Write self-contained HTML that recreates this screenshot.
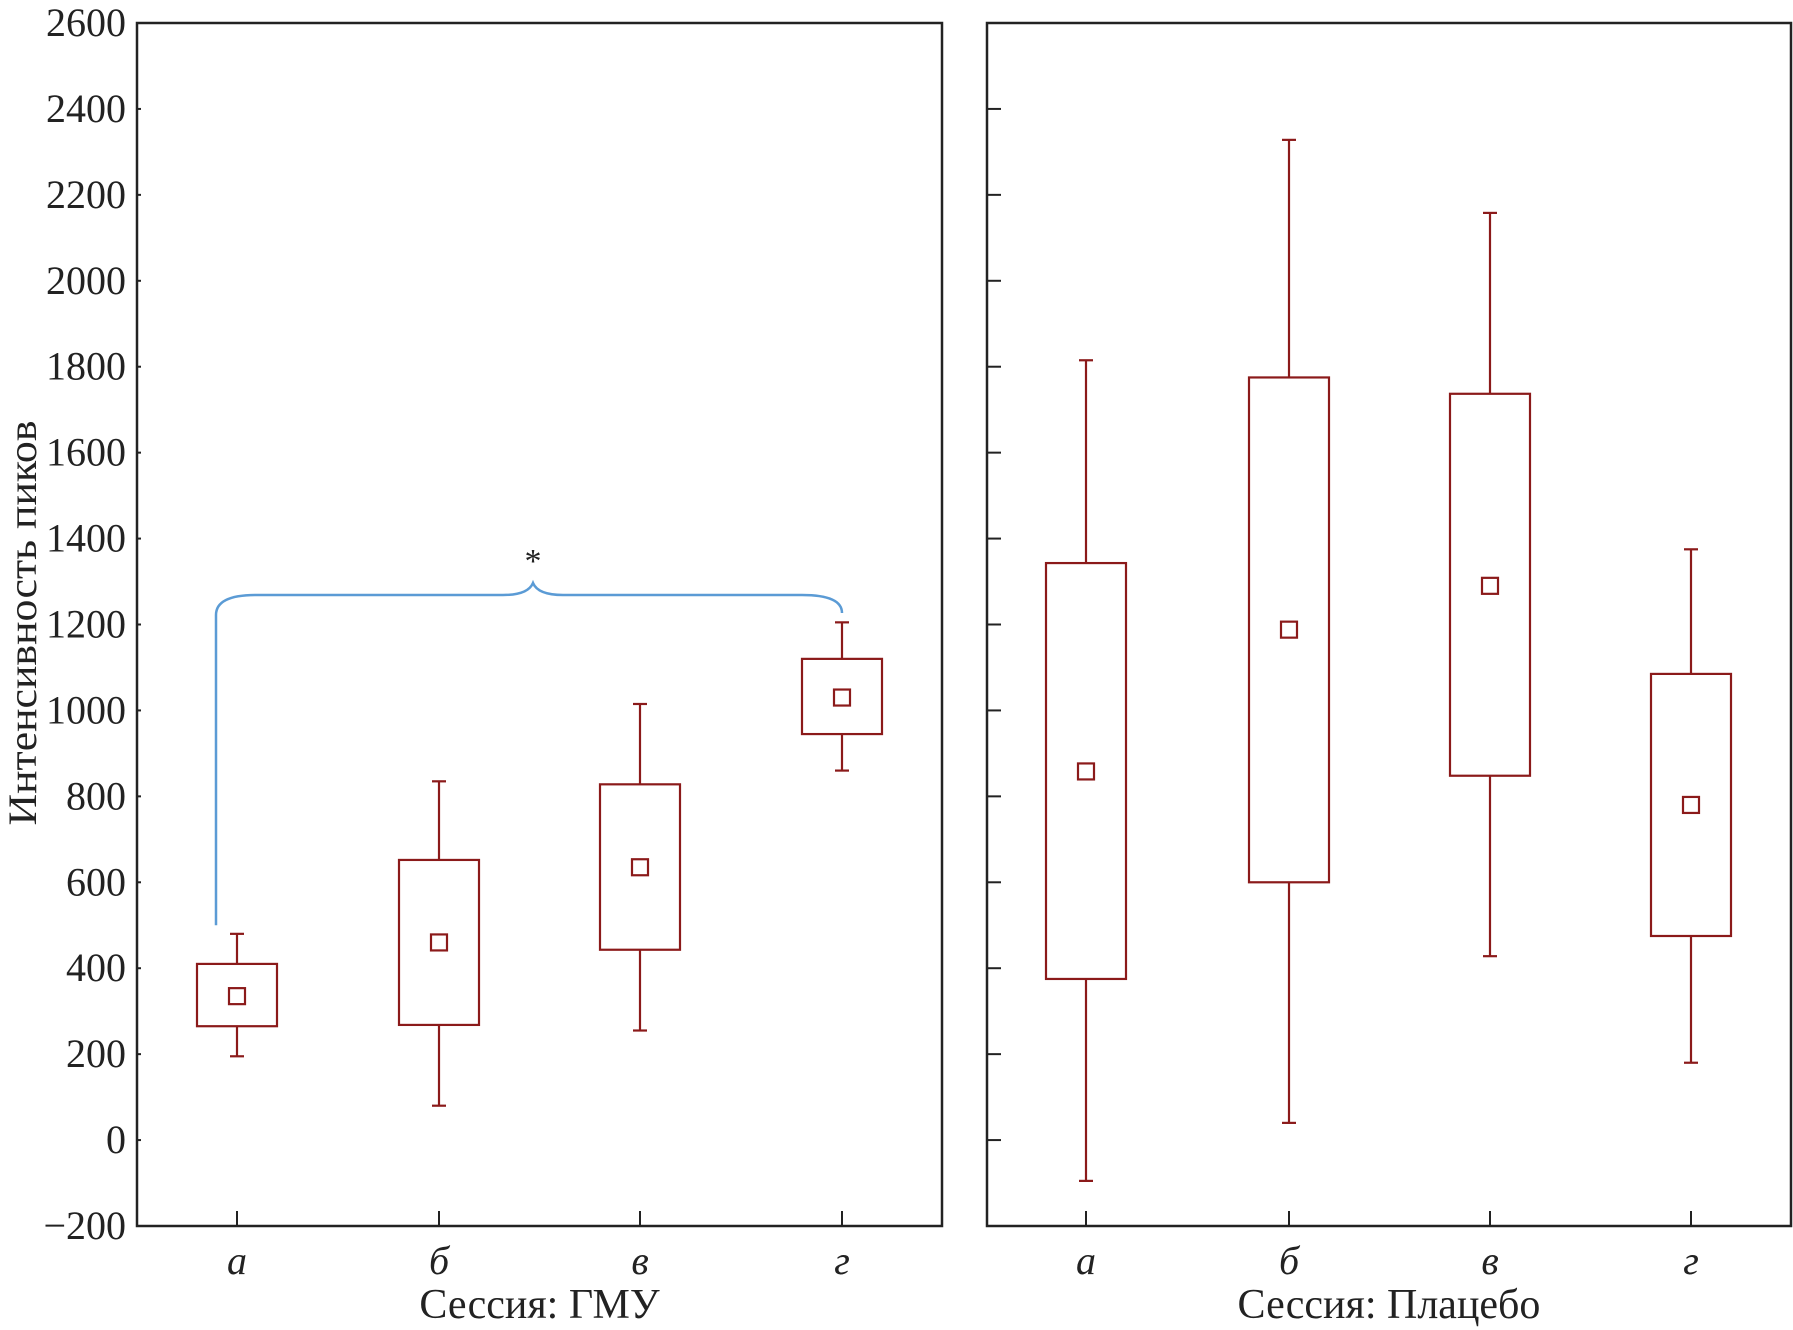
<!DOCTYPE html>
<html><head><meta charset="utf-8"><style>
html,body{margin:0;padding:0;background:#fff;}
svg{display:block;font-family:"Liberation Serif",serif;}
</style></head><body>
<svg id="chart" width="1793" height="1330" viewBox="0 0 1793 1330" xmlns="http://www.w3.org/2000/svg"></svg>
<script>
const yTicks=[-200,0,200,400,600,800,1000,1200,1400,1600,1800,2000,2200,2400,2600];
const categories=["а","б","в","г"];
const gmuWhiskLow=[195,80,255,860];
const gmuQ1=[265,268,443,945];
const gmuMean=[335,460,635,1030];
const gmuQ3=[410,652,828,1120];
const gmuWhiskHigh=[480,835,1015,1205];
const plaWhiskLow=[-95,40,428,180];
const plaQ1=[375,600,848,475];
const plaMean=[858,1188,1290,780];
const plaQ3=[1343,1775,1737,1085];
const plaWhiskHigh=[1815,2328,2158,1375];

const svg=document.getElementById('chart');
const NS='http://www.w3.org/2000/svg';
const yTop=23,yBot=1226,vMin=-200,vMax=2600;
function Y(v){return yBot-(v-vMin)/(vMax-vMin)*(yBot-yTop);}
function mk(tag,attrs,parent){const e=document.createElementNS(NS,tag);for(const k in attrs)e.setAttribute(k,attrs[k]);(parent||svg).appendChild(e);return e;}
const panels=[
 {x0:137,x1:942,xs:[237,439,640,842],title:"Сессия: ГМУ",name:"gmu",d:[gmuWhiskLow,gmuQ1,gmuMean,gmuQ3,gmuWhiskHigh]},
 {x0:987,x1:1791,xs:[1086,1289,1490,1691],title:"Сессия: Плацебо",name:"placebo",d:[plaWhiskLow,plaQ1,plaMean,plaQ3,plaWhiskHigh]}
];
const RED='#8b1a1a';
panels.forEach((p,pi)=>{
  const g=mk('g',{});
  
  
  const fr=mk('rect',{x:p.x0,y:yTop,width:p.x1-p.x0,height:yBot-yTop,fill:'none',stroke:'#222','stroke-width':2.5},g);
  
  
  yTicks.forEach(t=>{
    const l=mk('line',{x1:p.x0,x2:p.x0+(pi?14:4),y1:Y(t),y2:Y(t),stroke:'#222','stroke-width':2},g);
    
    
  });
  p.xs.forEach((x,i)=>{
    const l=mk('line',{x1:x,x2:x,y1:yBot,y2:yBot-15,stroke:'#222','stroke-width':2},g);
    
    
    const t=mk('text',{x:x,y:1274,'font-size':40,'font-style':'italic','text-anchor':'middle',fill:'#222'},g);
    t.textContent=categories[i];
    
    
    const [lo,q1,m,q3,hi]=p.d.map(a=>a[i]);
    const hw=40,cap=7;
    const bg=mk('g',{stroke:RED,'stroke-width':2.2,fill:'none'},g);
    
    
    mk('line',{x1:x,x2:x,y1:Y(hi),y2:Y(q3)},bg);
    mk('line',{x1:x,x2:x,y1:Y(q1),y2:Y(lo)},bg);
    mk('line',{x1:x-cap,x2:x+cap,y1:Y(hi),y2:Y(hi)},bg);
    mk('line',{x1:x-cap,x2:x+cap,y1:Y(lo),y2:Y(lo)},bg);
    mk('rect',{x:x-hw,y:Y(q3),width:2*hw,height:Y(q1)-Y(q3)},bg);
    mk('rect',{x:x-8,y:Y(m)-8,width:16,height:16},bg);
  });
  const tt=mk('text',{x:(p.x0+p.x1)/2,y:1318,'font-size':42,'text-anchor':'middle',fill:'#222'},g);
  tt.textContent=p.title;
  
  
});
yTicks.forEach(t=>{
  const e=mk('text',{x:126,y:Y(t)+13,'font-size':40,'text-anchor':'end',fill:'#222'});
  e.textContent=(t<0?'\u2212':'')+Math.abs(t);
  
  
});
const yt=mk('text',{x:0,y:0,'font-size':40,'text-anchor':'middle',fill:'#222',transform:'translate(36,623) rotate(-90)',textLength:405,lengthAdjust:'spacingAndGlyphs'});
yt.textContent='Интенсивность пиков';


// significance brace
const bL=216,bR=842,bM=533,bTop=595,bPeak=583,bLeftBot=Y(500),bRightBot=613;
const br=mk('path',{d:`M${bL},${bLeftBot} L${bL},${bTop+20} Q${bL},${bTop} ${bL+40},${bTop} L${bM-30},${bTop} Q${bM-5},${bTop} ${bM},${bPeak} Q${bM+5},${bTop} ${bM+30},${bTop} L${bR-40},${bTop} Q${bR},${bTop} ${bR},${bRightBot}`,fill:'none',stroke:'#5b9bd5','stroke-width':2.5});


const st=mk('text',{x:bM,y:572,'font-size':34,'text-anchor':'middle',fill:'#222'});
st.textContent='*';


</script>
</body></html>
